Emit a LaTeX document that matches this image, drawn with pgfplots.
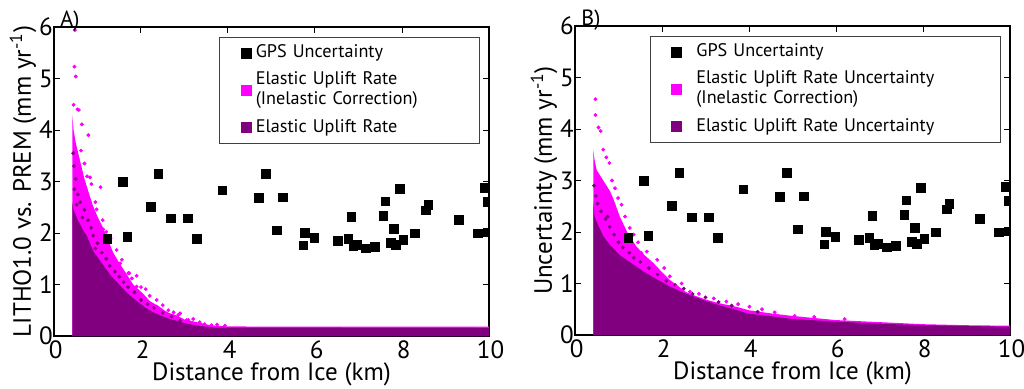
\documentclass[border=0pt]{standalone}
\usepackage{pgfplots}
\pgfplotsset{compat=1.18}
\usepackage{fontspec}
\setmainfont{PT Sans}
\definecolor{mag}{RGB}{255,0,255}
\definecolor{pur}{RGB}{128,0,128}

\pgfplotsset{
  myax/.style={
    scale only axis, width=217.5pt, height=154.5pt,
    xmin=0, xmax=10, ymin=0, ymax=6,
    xtick={0,2,4,6,8,10}, ytick={0,1,2,3,4,5,6},
    tick align=inside, major tick length=3pt,
    tick style={black, line width=0.5pt},
    axis line style={line width=0.6pt},
    /pgf/number format/assume math mode=true,
    tick label style={font=\fontsize{12.5}{12.5}\selectfont, inner sep=1pt},
    yticklabel style={xshift=0.6pt},
    xticklabel style={yshift=-1.1pt, xshift=0.8pt},
    label style={font=\fontsize{12.5}{13}\selectfont, inner sep=0pt},
    xlabel={Distance from Ice (km)},
    xlabel style={at={(axis description cs:0.5,0)}, anchor=base, yshift=-22.3pt},
    ylabel style={at={(axis description cs:-0.0713,0.5)}, anchor=center},
    clip marker paths=true,
    legend cell align=left,
  },
  leg/.style={at={(rel axis cs:1,1)}, anchor=north east, xshift=-4.5pt, yshift=-4.8pt,
    draw=black!75, fill=white, inner xsep=0pt, inner ysep=3.95pt, row sep=5.2pt, column sep=0pt,
    font=\fontsize{9.1}{10}\selectfont,
    nodes={inner sep=0pt, text depth={}, text width=#1, align=left}},
  gps/.style={only marks, mark=square*, mark size=2.15pt, black},
  outl/.style={only marks, mark=*, mark size=0.75pt, mag, mark options={draw=none, fill=mag}},
  inl/.style={only marks, mark=*, mark size=0.75pt, pur, mark options={draw=none, fill=pur}},
}

\begin{document}
\begin{tikzpicture}
\useasboundingbox (0,0) rectangle (512pt,194pt);

% ---------------- Panel A ----------------
\begin{axis}[myax, at={(27pt,26pt)}, anchor=south west,
  ylabel={LITHO1.0 vs. PREM (mm yr\textsuperscript{-1})},
  legend style={leg=111.9pt},
]
\addlegendimage{legend image code/.code={\fill[black] (-2.5pt,-2.5pt) rectangle (2.5pt,2.5pt); \path (-13.3pt,0pt) (4.7pt,0pt);}}
\addlegendentry{GPS Uncertainty}
\addlegendimage{legend image code/.code={\fill[mag] (-2.5pt,-2.5pt) rectangle (2.5pt,2.5pt); \path (-13.3pt,0pt) (4.7pt,0pt);}}
\addlegendentry{Elastic Uplift Rate\\(Inelastic Correction)}
\addlegendimage{legend image code/.code={\fill[pur] (-2.5pt,-2.5pt) rectangle (2.5pt,2.5pt); \path (-13.3pt,0pt) (4.7pt,0pt);}}
\addlegendentry{Elastic Uplift Rate}

% Elastic uplift rate (inelastic correction): dense cloud envelope
\addplot[forget plot, draw=none, fill=mag] coordinates {
(0.42,0) (0.42,4.3) (0.45,4.0) (0.5,3.75) (0.6,3.4) (0.7,3.05) (0.83,2.7) (0.9,2.52) (1.0,2.32) (1.13,2.1)
(1.25,1.85) (1.36,1.62) (1.5,1.42) (1.67,1.2) (1.82,1.0) (2.05,0.82) (2.2,0.68) (2.44,0.56) (2.6,0.46) (2.82,0.4)
(3.0,0.32) (3.28,0.27) (3.6,0.21) (4.0,0.185) (10,0.18) (10,0) };
% Elastic uplift rate: dense cloud envelope
\addplot[forget plot, draw=none, fill=pur] coordinates {
(0.42,0) (0.42,2.6) (0.45,2.45) (0.55,2.25) (0.67,2.05) (0.75,1.95) (0.9,1.65) (1.13,1.38) (1.3,1.18)
(1.52,0.98) (1.7,0.82) (1.9,0.68) (2.1,0.55) (2.28,0.46) (2.5,0.38) (2.67,0.33) (3.0,0.25) (3.3,0.2) (3.7,0.165) (10,0.155) (10,0) };
\addplot[forget plot, inl] coordinates {
(0.44,3.55) (0.46,3.3) (0.5,3.05) (0.47,2.85) (0.55,2.75) (0.6,2.6) (0.52,2.55) (0.7,2.45) (0.65,2.3)
(0.78,2.25) (0.85,2.1) (0.9,1.95) (1.0,1.8) (0.95,1.7) (1.1,1.62) (1.2,1.5) (1.28,1.36) (1.4,1.25)
(1.5,1.15) (1.6,1.05) (1.7,0.95) (1.85,0.85) (2.0,0.7) (2.15,0.62) (2.3,0.55) (2.5,0.45) (2.7,0.38) (2.9,0.3) };
\addplot[forget plot, outl] coordinates {
(0.48,5.94) (0.47,5.23) (0.50,5.04) (0.45,4.49) (0.54,4.40) (0.57,4.39) (0.64,4.11) (0.79,3.90)
(0.62,3.6) (0.7,3.35) (0.76,3.1) (0.83,3.08) (0.86,2.95) (1.07,2.89) (0.98,2.46) (0.95,2.6) (1.12,2.25)
(1.13,2.07) (1.2,2.02) (1.3,1.9) (1.44,1.67) (1.52,1.41) (1.56,1.48) (1.71,1.22) (1.73,1.22) (1.79,1.12)
(1.90,1.17) (1.90,0.96) (2.0,0.95) (2.11,0.91) (2.2,0.78) (2.36,0.70) (2.36,0.57) (2.5,0.6) (2.59,0.44)
(2.63,0.50) (2.75,0.46) (2.86,0.41) (2.90,0.44) (3.05,0.31) (3.09,0.31) (3.2,0.33) (3.35,0.27) (3.46,0.23)
(3.62,0.21) (3.75,0.22) (3.93,0.2) };
\addplot[forget plot, gps] coordinates {
(1.23,1.89) (1.59,2.99) (1.69,1.93) (2.23,2.51) (2.40,3.15) (2.69,2.28) (3.08,2.28) (3.28,1.88)
(3.87,2.83) (4.71,2.68) (4.87,3.15) (5.26,2.69) (5.13,2.05) (5.77,2.00) (5.73,1.76) (5.99,1.90)
(6.53,1.85) (6.77,1.89) (6.84,2.31) (6.88,1.75) (6.96,1.77) (7.17,1.70) (7.38,1.73) (7.57,2.33)
(7.62,2.61) (7.74,1.81) (7.82,2.08) (7.86,1.77) (7.95,2.86) (8.03,1.87) (8.29,1.99) (8.55,2.44)
(8.61,2.55) (9.31,2.25) (9.75,1.99) (9.89,2.88) (9.96,2.60) (9.96,2.01) };
\coordinate (tlA) at (rel axis cs:0,1);
\end{axis}
\node[anchor=base west, font=\fontsize{11}{11}\selectfont, inner sep=0pt] at ([xshift=3pt,yshift=0.3pt]tlA) {A)};

% ---------------- Panel B ----------------
\begin{axis}[myax, at={(287.5pt,26.5pt)}, anchor=south west,
  ylabel={Uncertainty (mm yr\textsuperscript{-1})},
  legend style={leg=152.1pt},
]
\addlegendimage{legend image code/.code={\fill[black] (-2.5pt,-2.5pt) rectangle (2.5pt,2.5pt); \path (-12.85pt,0pt) (9.85pt,0pt);}}
\addlegendentry{GPS Uncertainty}
\addlegendimage{legend image code/.code={\fill[mag] (-2.5pt,-2.5pt) rectangle (2.5pt,2.5pt); \path (-12.85pt,0pt) (9.85pt,0pt);}}
\addlegendentry{Elastic Uplift Rate Uncertainty\\(Inelastic Correction)}
\addlegendimage{legend image code/.code={\fill[pur] (-2.5pt,-2.5pt) rectangle (2.5pt,2.5pt); \path (-12.85pt,0pt) (9.85pt,0pt);}}
\addlegendentry{Elastic Uplift Rate Uncertainty}

\addplot[forget plot, draw=none, fill=mag] coordinates {
(0.42,0) (0.42,3.6) (0.45,3.4) (0.5,3.2) (0.65,3.0) (0.8,2.8) (0.88,2.65) (1.03,2.3) (1.2,2.0)
(1.41,1.72) (1.6,1.55) (1.8,1.4) (2.0,1.22) (2.18,1.07) (2.4,0.93) (2.56,0.83) (2.8,0.75) (3.0,0.69)
(3.3,0.62) (3.7,0.55) (4.0,0.48) (4.5,0.42) (5.0,0.37) (6.0,0.29) (7.0,0.25) (8.0,0.21) (9.0,0.19)
(10,0.18) (10,0) };
\addplot[forget plot, draw=none, fill=pur] coordinates {
(0.42,0) (0.42,2.6) (0.45,2.3) (0.55,2.1) (0.65,1.92) (0.8,1.75) (1.03,1.55) (1.2,1.45) (1.41,1.33)
(1.6,1.22) (1.8,1.12) (2.18,0.94) (2.5,0.82) (2.94,0.68) (3.3,0.58) (3.7,0.49) (4.0,0.41) (4.47,0.37)
(5.0,0.31) (6.0,0.26) (7.0,0.22) (8.0,0.19) (10,0.16) (10,0) };
\addplot[forget plot, inl] coordinates {
(0.44,2.9) (0.48,2.7) (0.52,2.55) (0.6,2.4) (0.7,2.25) (0.8,2.1) (0.75,2.3) (0.9,1.95) (1.0,1.8)
(1.1,1.7) (1.25,1.6) (1.35,1.5) (1.5,1.42) (1.7,1.3) (1.9,1.18) (2.1,1.05) (2.3,0.97) (2.5,0.9)
(2.7,0.8) (3.0,0.73) (3.3,0.64) (3.6,0.57) (4.2,0.45) };
\addplot[forget plot, outl] coordinates {
(0.47,4.58) (0.47,4.27) (0.54,4.03) (0.59,3.96) (0.65,3.60) (0.72,3.45) (0.79,3.34) (0.85,3.0) (0.92,2.85)
(0.99,2.66) (1.07,2.53) (1.15,2.3) (1.26,2.08) (1.35,1.95) (1.45,1.8) (1.53,1.59) (1.65,1.62) (1.89,1.46)
(1.91,1.23) (2.05,1.3) (2.18,1.14) (2.33,0.94) (2.45,1.0) (2.64,0.84) (2.85,0.8) (3.19,0.71) (3.48,0.65)
(3.75,0.6) (4.01,0.55) (4.3,0.5) (4.59,0.44) (5.05,0.37) (5.5,0.35) (6.2,0.31) };
\addplot[forget plot, gps] coordinates {
(1.23,1.89) (1.59,2.99) (1.69,1.93) (2.23,2.51) (2.40,3.15) (2.69,2.28) (3.08,2.28) (3.28,1.88)
(3.87,2.83) (4.71,2.68) (4.87,3.15) (5.26,2.69) (5.13,2.05) (5.77,2.00) (5.73,1.76) (5.99,1.90)
(6.53,1.85) (6.77,1.89) (6.84,2.31) (6.88,1.75) (6.96,1.77) (7.17,1.70) (7.38,1.73) (7.57,2.33)
(7.62,2.61) (7.74,1.81) (7.82,2.08) (7.86,1.77) (7.95,2.86) (8.03,1.87) (8.29,1.99) (8.55,2.44)
(8.61,2.55) (9.31,2.25) (9.75,1.99) (9.89,2.88) (9.96,2.60) (9.96,2.01) };
\coordinate (tlB) at (rel axis cs:0,1);
\end{axis}
\node[anchor=base west, font=\fontsize{11}{11}\selectfont, inner sep=0pt] at ([xshift=3pt,yshift=0.3pt]tlB) {B)};
\end{tikzpicture}
\end{document}
